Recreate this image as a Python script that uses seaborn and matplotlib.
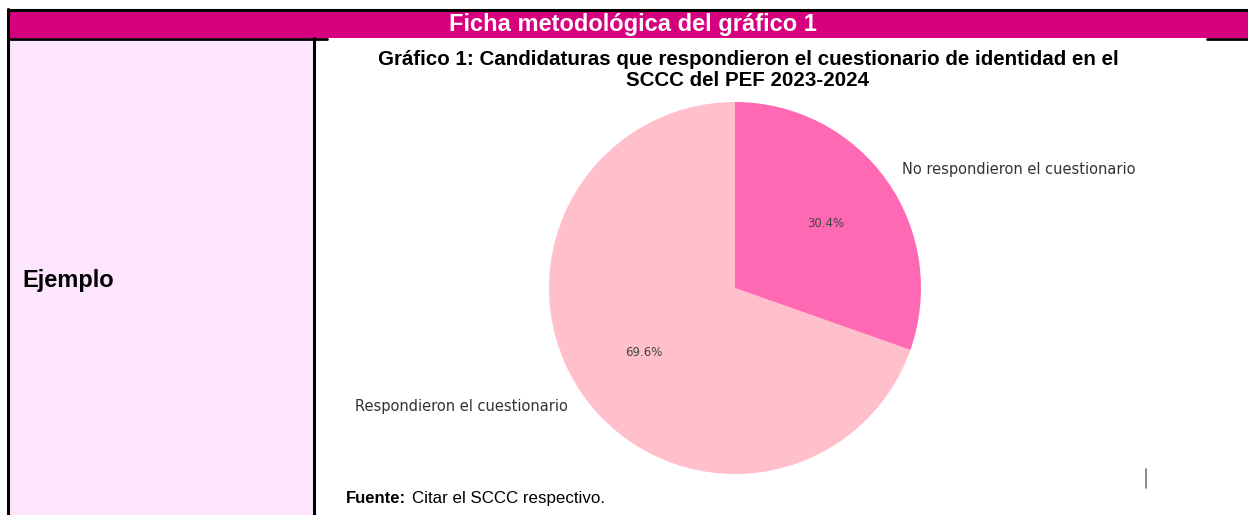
import matplotlib
matplotlib.use("Agg")
import matplotlib.pyplot as plt
from matplotlib.patches import Rectangle
import seaborn as sns

# data
categories = ["Respondieron el cuestionario", "No respondieron el cuestionario"]
values = [69.6, 30.4]
slice_colors = ["#FFC0CB", "#FF69B4"]

header_text = "Ficha metodológica del gráfico 1"
row_label = "Ejemplo"
chart_title = ("Gráfico 1: Candidaturas que respondieron el cuestionario de identidad en el\n"
               "SCCC del PEF 2023-2024")

sns.set_theme(style="white")
plt.rcParams["font.family"] = ["DejaVu Sans"]

W, H = 1248, 515
fig = plt.figure(figsize=(W / 100, H / 100), dpi=100)
fig.patch.set_facecolor("white")

# background axes in pixel coordinates for the table frame
bg = fig.add_axes([0, 0, 1, 1], zorder=0)
bg.set_xlim(0, W)
bg.set_ylim(H, 0)
bg.axis("off")

magenta = "#D6007F"
bg.add_patch(Rectangle((8, 10), W - 8, 28, facecolor=magenta, edgecolor="none"))
bg.add_patch(Rectangle((9, 39), 305, H - 39, facecolor="#FDE5FD", edgecolor="none"))
bg.plot([8, W], [9.5, 9.5], color="black", lw=2.2)
bg.plot([8, 327], [38.5, 38.5], color="black", lw=2.0)
bg.plot([1207, W], [38.5, 38.5], color="black", lw=2.0)
bg.plot([8, 8], [9, H], color="black", lw=2.2)
bg.plot([314, 314], [38, H], color="black", lw=2.2)
bg.plot([1145.5, 1145.5], [469, 488], color="#777777", lw=1.2)

bg.text(633, 24, header_text, color="white", fontsize=17, fontweight="bold",
        ha="center", va="center", family="Liberation Sans")
bg.text(22, 281, row_label, color="black", fontsize=17, fontweight="bold",
        ha="left", va="center", family="Liberation Sans")
bg.text(748, 70, chart_title, color="black", fontsize=14.8, fontweight="bold",
        ha="center", va="center", family="Liberation Sans", linespacing=1.08)
bg.text(346, 503, "Fuente:", color="black", fontsize=12, fontweight="bold",
        ha="left", va="baseline", family="Liberation Sans")
bg.text(412, 503, "Citar el SCCC respectivo.", color="black", fontsize=12.2,
        ha="left", va="baseline", family="Liberation Sans")

# pie axes: center (735, 288) px, radius 186 px
cx, cy, R = 735, 288, 186
side = 2.5 * R
ax = fig.add_axes([(cx - side / 2) / W, 1 - (cy + side / 2) / H, side / W, side / H], zorder=1)
wedges, texts, autotexts = ax.pie(values, labels=categories, colors=slice_colors,
                                  autopct="%1.1f%%", startangle=90,
                                  wedgeprops={"linewidth": 0, "edgecolor": "none"},
                                  textprops={"fontsize": 10.5, "color": "#333333"})
for t in autotexts:
    t.set_fontsize(8.5)
    t.set_color("#444444")
ax.set_xlim(-1.25, 1.25)
ax.set_ylim(-1.25, 1.25)
ax.set_aspect("equal")
ax.patch.set_alpha(0)

fig.savefig("out.png", dpi=100)
